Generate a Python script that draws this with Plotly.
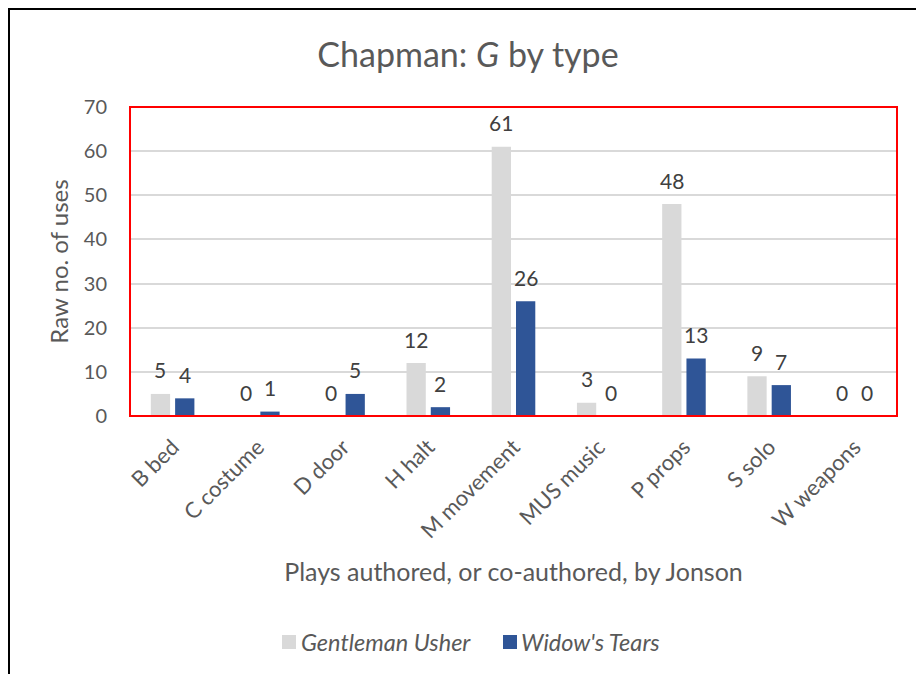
import plotly.graph_objects as go

# Stage-direction types and counts of G for the two Chapman plays
categories = ["B bed", "C costume", "D door", "H halt", "M movement",
              "MUS music", "P props", "S solo", "W weapons"]
gentleman_usher = [5, 0, 0, 12, 61, 3, 48, 9, 0]
widows_tears = [4, 1, 5, 2, 26, 0, 13, 7, 0]
series_names = ["Gentleman Usher", "Widow's Tears"]
y_ticks = [0, 10, 20, 30, 40, 50, 60, 70]

FONT = "Lato"
GREY_TEXT = "#595959"
LABEL_TEXT = "#404040"
COLORS = ["#d9d9d9", "#2f5597"]

W, H = 916, 674
ML, MR, MT, MB = 130, 19, 107, 258
PW, PH = W - ML - MR, H - MT - MB


def px_x(x):
    return (x - ML) / PW


def px_y(y):
    return (H - MB - y) / PH


fig = go.Figure()
for name, vals, col in zip(series_names, [gentleman_usher, widows_tears], COLORS):
    fig.add_trace(go.Bar(
        x=categories, y=vals, name=name,
        marker=dict(color=col, line=dict(width=0)),
        showlegend=False,
    ))

# value labels above each bar
slot_shift = 12.15
for shift, vals in zip([-slot_shift, slot_shift], [gentleman_usher, widows_tears]):
    for c, v in zip(categories, vals):
        fig.add_annotation(
            x=c, y=v, text=str(v), showarrow=False,
            xshift=shift, yshift=24, yanchor="middle", xanchor="center",
            font=dict(family=FONT, size=21, color=LABEL_TEXT),
        )

# legend: colour swatch followed by italic series name
legend_items = [(282, 299), (503, 519)]
for (sx, tx), name, col in zip(legend_items, series_names, COLORS):
    fig.add_shape(type="rect", xref="paper", yref="paper",
                  x0=px_x(sx), x1=px_x(sx + 14), y0=px_y(649), y1=px_y(635),
                  line=dict(width=0), fillcolor=col)
    fig.add_annotation(
        xref="paper", yref="paper", x=px_x(tx), y=px_y(642),
        text=f"<i>{name}</i>", showarrow=False,
        xanchor="left", yanchor="middle",
        font=dict(family=FONT, size=23.5, color=GREY_TEXT, style="italic"),
    )

fig.update_layout(
    width=W, height=H, autosize=False,
    margin=dict(l=ML, r=MR, t=MT, b=MB),
    paper_bgcolor="white", plot_bgcolor="white",
    barmode="group", bargap=0.43, bargroupgap=0.206,
    font=dict(family=FONT, color=GREY_TEXT),
    title=dict(
        text="Chapman: <i>G</i> by type",
        x=468 / W, xref="container", xanchor="center",
        y=1 - 55 / H, yref="container", yanchor="middle",
        font=dict(family=FONT, size=34, color=GREY_TEXT),
    ),
    showlegend=False,
)

fig.update_yaxes(
    range=[0, 70], tickvals=y_ticks,
    showgrid=True, gridcolor="#d9d9d9", gridwidth=1.5,
    zeroline=False, showline=False,
    ticks="", ticklabelstandoff=22,
    tickfont=dict(family=FONT, size=20, color=GREY_TEXT),
    title=dict(text="Raw no. of uses", standoff=8,
               font=dict(family=FONT, size=24, color=GREY_TEXT)),
)
fig.update_xaxes(
    tickangle=-45, showgrid=False, zeroline=False, showline=False,
    ticks="", ticklabelstandoff=13,
    tickfont=dict(family=FONT, size=22, color=GREY_TEXT),
    title=dict(text="Plays authored, or co-authored, by Jonson", standoff=21,
               font=dict(family=FONT, size=25, color=GREY_TEXT)),
)

# plot-area outline and outer chart frame
fig.add_shape(type="rect", xref="paper", yref="paper", x0=0, x1=1, y0=0, y1=1,
              line=dict(color="#ff0000", width=2), layer="above")
fig.add_shape(type="rect", xref="paper", yref="paper",
              x0=px_x(9), x1=px_x(940), y0=px_y(700), y1=px_y(9),
              line=dict(color="#000000", width=2), layer="above")

fig.write_html("out.html")
